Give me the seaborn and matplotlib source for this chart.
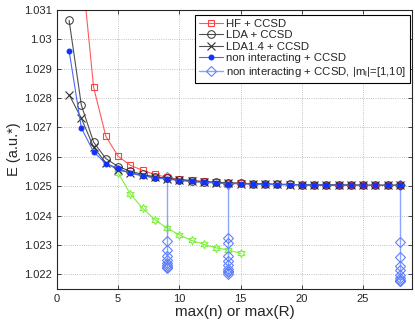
import matplotlib
matplotlib.use("Agg")
import matplotlib.pyplot as plt
import seaborn as sns
import numpy as np

# data
n_all = list(range(1, 29))
n_hf = list(range(2, 29))
hf = [1.0326, 1.02837, 1.02670, 1.02602, 1.02571, 1.02554, 1.02540, 1.02530, 1.02524,
      1.02520, 1.02517, 1.02514, 1.02512, 1.02510, 1.02509, 1.02508, 1.02507, 1.02506,
      1.02505, 1.02505, 1.02504, 1.02504, 1.02504, 1.02503, 1.02503, 1.02503, 1.02503]
lda = [1.03065, 1.02776, 1.02650, 1.02594, 1.02567, 1.02551, 1.02540, 1.02532, 1.02527,
       1.02522, 1.02518, 1.02515, 1.02513, 1.02511, 1.02510, 1.02508, 1.02507, 1.02506,
       1.02506, 1.02505, 1.02505, 1.02504, 1.02504, 1.02504, 1.02503, 1.02503, 1.02503, 1.02503]
lda14 = [1.02812, 1.02731, 1.02633, 1.02579, 1.02556, 1.02545, 1.02537, 1.02530, 1.02525,
         1.02521, 1.02517, 1.02514, 1.02512, 1.02510, 1.02509, 1.02508, 1.02507, 1.02506,
         1.02505, 1.02505, 1.02504, 1.02504, 1.02504, 1.02503, 1.02503, 1.02503, 1.02503, 1.02503]
nonint = [1.02961, 1.02698, 1.02617, 1.02577, 1.02561, 1.02544, 1.02535, 1.02528, 1.02524,
          1.02519, 1.02516, 1.02513, 1.02511, 1.02509, 1.02508, 1.02507, 1.02506, 1.02505,
          1.02505, 1.02504, 1.02504, 1.02504, 1.02503, 1.02503, 1.02503, 1.02503, 1.02503, 1.02503]
n_green = list(range(5, 16))
green = [1.02546, 1.02473, 1.02425, 1.02386, 1.02357, 1.02334, 1.02315, 1.02302,
         1.02290, 1.02283, 1.02271]
m_n = [9, 14, 28]
m_vals = [
    [1.02530, 1.02313, 1.02281, 1.02262, 1.02247, 1.02238, 1.02231, 1.02226, 1.02223, 1.02221],
    [1.02509, 1.02324, 1.02306, 1.02262, 1.02245, 1.02230, 1.02219, 1.02211, 1.02206, 1.02202],
    [1.02503, 1.02311, 1.02258, 1.02227, 1.02213, 1.02198, 1.02187, 1.02182, 1.02178, 1.02176],
]
yticks = [1.022, 1.023, 1.024, 1.025, 1.026, 1.027, 1.028, 1.029, 1.03, 1.031]

sns.set_style("ticks")
plt.rcParams['font.family'] = ['Liberation Sans', 'DejaVu Sans']
plt.rcParams['mathtext.fontset'] = 'custom'
plt.rcParams['mathtext.rm'] = 'Liberation Sans'

fig = plt.figure(figsize=(4.15, 3.25), dpi=100)
ax = fig.add_axes([0.137, 0.111, 0.856, 0.858])

sns.lineplot(x=n_green, y=green, ax=ax, color='#80f040', lw=0.8, marker=(6, 1, 0),
             ms=6, mfc='none', mec='#80f040', mew=0.8, estimator=None, sort=False)
for i, (xm, vals) in enumerate(zip(m_n, m_vals)):
    sns.lineplot(x=[xm] * len(vals), y=vals, ax=ax, color='#8aa4ff', lw=1.0, marker='D',
                 ms=5.5, mfc='none', mec='#6080ff', mew=0.8, estimator=None, sort=False,
                 label='non interacting + CCSD, |m$_\\mathrm{l}$|=[1,10]' if i == 0 else None)
sns.lineplot(x=n_hf, y=hf, ax=ax, color='#ff5a5a', lw=0.8, marker='s', ms=5,
             mfc='none', mec='#ff4040', mew=0.8, estimator=None, sort=False, label='HF + CCSD')
sns.lineplot(x=n_all, y=lda, ax=ax, color='#505050', lw=0.8, marker='o', ms=5.5,
             mfc='none', mec='#303030', mew=0.7, estimator=None, sort=False, label='LDA + CCSD')
sns.lineplot(x=n_all, y=lda14, ax=ax, color='#505050', lw=0.8, marker='x', ms=5.5,
             mec='#303030', mew=0.8, estimator=None, sort=False, label='LDA1.4 + CCSD')
sns.lineplot(x=n_all, y=nonint, ax=ax, color='#4a68ff', lw=0.8, marker='o', ms=3.5,
             mfc='#1030ff', mec='#1030ff', estimator=None, sort=False,
             label='non interacting + CCSD')

ax.set_xlim(0, 29)
ax.set_ylim(1.0215, 1.031)
ax.set_xticks([0, 5, 10, 15, 20, 25])
ax.set_yticks(yticks)
ax.set_yticklabels(['%g' % v for v in yticks])
ax.tick_params(direction='in', top=True, right=True, labelsize=8, length=3, width=0.6)
ax.grid(True, linestyle=':', color='#b0b0b0', lw=0.6)
for s in ax.spines.values():
    s.set_linewidth(0.8)
ax.set_xlabel('max(n) or max(R)', fontsize=11, labelpad=1)
ax.set_ylabel('E (a.u.*)', fontsize=10.5, labelpad=2)

h, l = ax.get_legend_handles_labels()
order = [1, 2, 3, 4, 0]
leg = ax.legend([h[i] for i in order], [l[i] for i in order], loc='upper right',
                bbox_to_anchor=(0.995, 0.982), fontsize=8.2, frameon=True, fancybox=False,
                edgecolor='black', framealpha=1, borderpad=0.35, labelspacing=0.12,
                handlelength=2.1, handletextpad=0.3, borderaxespad=0)
leg.get_frame().set_linewidth(0.8)

fig.savefig('out.png', dpi=100)
